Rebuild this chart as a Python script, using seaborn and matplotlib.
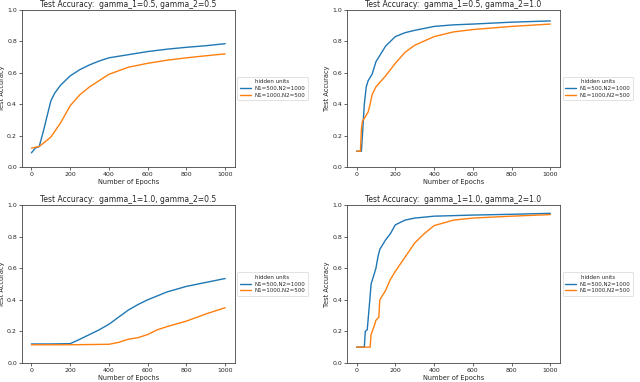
import pandas as pd
import numpy as np
import matplotlib
matplotlib.use("Agg")
import matplotlib.pyplot as plt
import seaborn as sns

# panel titles and legend labels
titles = ["Test Accuracy:  gamma_1=0.5, gamma_2=0.5",
          "Test Accuracy:  gamma_1=0.5, gamma_2=1.0",
          "Test Accuracy:  gamma_1=1.0, gamma_2=0.5",
          "Test Accuracy:  gamma_1=1.0, gamma_2=1.0"]
label_a = "N1=500,N2=1000"
label_b = "N1=1000,N2=500"

# panel 1: gamma_1=0.5, gamma_2=0.5
p1_a_x = [0, 20, 40, 60, 80, 100, 120, 150, 200, 250, 300, 350, 400, 500, 600, 700, 800, 900, 1000]
p1_a_y = [0.09, 0.12, 0.13, 0.22, 0.32, 0.42, 0.47, 0.52, 0.58, 0.62, 0.65, 0.675, 0.695, 0.715, 0.735, 0.75, 0.762, 0.772, 0.785]
p1_b_x = [0, 40, 100, 150, 200, 250, 300, 400, 500, 600, 700, 800, 900, 1000]
p1_b_y = [0.12, 0.13, 0.19, 0.28, 0.39, 0.46, 0.51, 0.59, 0.635, 0.66, 0.68, 0.695, 0.708, 0.72]

# panel 2: gamma_1=0.5, gamma_2=1.0
p2_a_x = [0, 25, 30, 40, 50, 60, 80, 100, 150, 200, 250, 300, 400, 500, 600, 800, 1000]
p2_a_y = [0.1, 0.1, 0.2, 0.4, 0.51, 0.55, 0.59, 0.67, 0.77, 0.83, 0.855, 0.87, 0.895, 0.905, 0.91, 0.922, 0.93]
p2_b_x = [0, 20, 25, 30, 50, 60, 70, 80, 100, 150, 200, 250, 300, 400, 500, 600, 800, 1000]
p2_b_y = [0.1, 0.1, 0.24, 0.29, 0.33, 0.35, 0.4, 0.46, 0.51, 0.58, 0.66, 0.73, 0.775, 0.83, 0.86, 0.875, 0.895, 0.91]

# panel 3: gamma_1=1.0, gamma_2=0.5
p3_a_x = [0, 100, 200, 250, 300, 350, 400, 450, 500, 550, 600, 700, 800, 900, 1000]
p3_a_y = [0.12, 0.12, 0.122, 0.15, 0.18, 0.21, 0.245, 0.29, 0.335, 0.37, 0.4, 0.45, 0.485, 0.51, 0.535]
p3_b_x = [0, 200, 400, 450, 500, 550, 600, 650, 700, 800, 900, 1000]
p3_b_y = [0.115, 0.115, 0.118, 0.13, 0.15, 0.16, 0.18, 0.21, 0.23, 0.265, 0.31, 0.35]

# panel 4: gamma_1=1.0, gamma_2=1.0
p4_a_x = [0, 40, 45, 55, 65, 75, 90, 100, 110, 120, 150, 175, 200, 250, 300, 400, 600, 800, 1000]
p4_a_y = [0.1, 0.1, 0.2, 0.21, 0.35, 0.5, 0.56, 0.6, 0.67, 0.72, 0.78, 0.82, 0.875, 0.905, 0.918, 0.93, 0.937, 0.942, 0.948]
p4_b_x = [0, 70, 75, 90, 100, 115, 120, 150, 175, 200, 250, 300, 350, 400, 500, 600, 800, 1000]
p4_b_y = [0.1, 0.1, 0.18, 0.23, 0.27, 0.29, 0.4, 0.46, 0.53, 0.58, 0.67, 0.76, 0.82, 0.87, 0.905, 0.918, 0.93, 0.94]

panels = [(p1_a_x, p1_a_y, p1_b_x, p1_b_y),
          (p2_a_x, p2_a_y, p2_b_x, p2_b_y),
          (p3_a_x, p3_a_y, p3_b_x, p3_b_y),
          (p4_a_x, p4_a_y, p4_b_x, p4_b_y)]

sns.set_style("ticks")
plt.rcParams["font.family"] = ["DejaVu Sans"]

fig = plt.figure(figsize=(6.4, 3.82), dpi=100)
positions = [[0.034, 0.563, 0.333, 0.411],
             [0.542, 0.563, 0.333, 0.411],
             [0.034, 0.050, 0.333, 0.413],
             [0.542, 0.050, 0.333, 0.413]]

for i, (ax_x, ax_y, bx, by) in enumerate(panels):
    ax = fig.add_axes(positions[i])
    df = pd.concat([
        pd.DataFrame({"epoch": ax_x, "acc": ax_y, "hidden units": label_a}),
        pd.DataFrame({"epoch": bx, "acc": by, "hidden units": label_b}),
    ])
    sns.lineplot(data=df, x="epoch", y="acc", hue="hidden units",
                 palette=["#1f77b4", "#ff7f0e"], linewidth=1.0, ax=ax)
    ax.set_ylim(0, 1.0)
    ax.set_xticks([0, 200, 400, 600, 800, 1000])
    ax.set_yticks([0.0, 0.2, 0.4, 0.6, 0.8, 1.0])
    ax.tick_params(labelsize=4.5, length=2, width=0.5, pad=1.5)
    for s in ax.spines.values():
        s.set_linewidth(0.6)
        s.set_color("#444444")
    ax.set_title(titles[i], fontsize=5.5, pad=2)
    ax.set_xlabel("Number of Epochs", fontsize=4.8, labelpad=1.5)
    ax.set_ylabel("Test Accuracy", fontsize=4.8, labelpad=1.5)
    leg = ax.legend(title="hidden units", loc="center left", bbox_to_anchor=(1.012, 0.5),
                    borderaxespad=0, fontsize=4.0, title_fontsize=4.0, frameon=True,
                    handlelength=2.0, handletextpad=0.6, borderpad=0.45, labelspacing=0.3)
    leg.get_frame().set_linewidth(0.5)

fig.savefig("out.png", dpi=100)
